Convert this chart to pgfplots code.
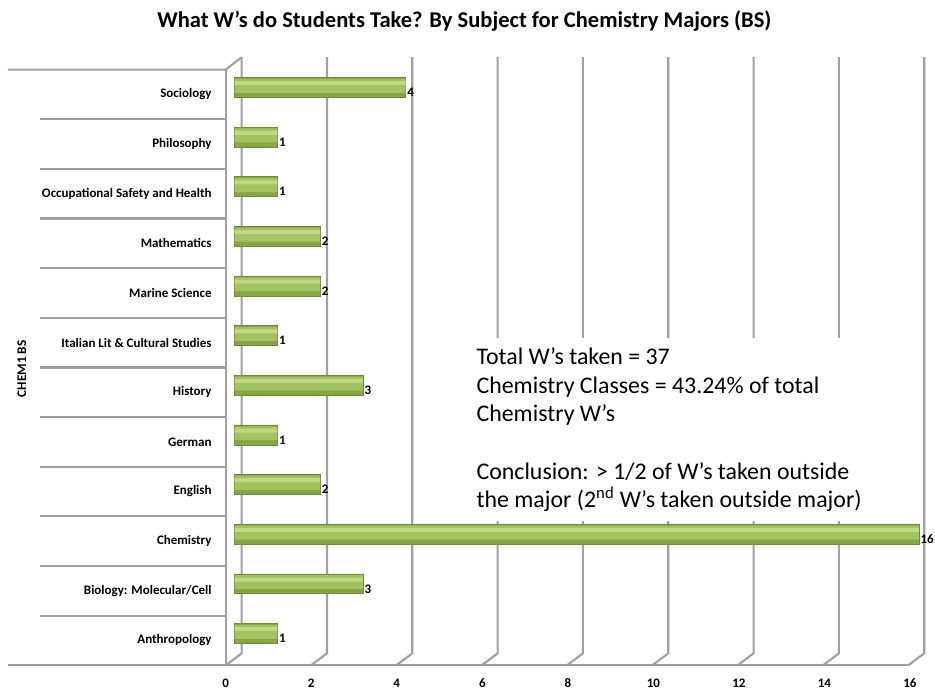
\documentclass[border=0pt]{standalone}
\usepackage{pgfplots}
\pgfplotsset{compat=1.18}
\usepackage{fontspec}
\setmainfont{Carlito}

\definecolor{gridgray}{HTML}{A0A0A0}
\definecolor{barhi}{HTML}{BFD982}
\definecolor{barmid}{HTML}{A3C261}
\definecolor{bardark}{HTML}{86A645}
\definecolor{barline}{HTML}{6E8A36}

% the chart's values, one row per subject (bottom to top)
\pgfplotstableread{
pos value
0  1
1  3
2  16
3  2
4  1
5  3
6  1
7  2
8  2
9  1
10 1
11 4
}\wdata

\begin{document}
\begin{tikzpicture}
\begin{scope}[x=0.75pt, y=-0.75pt]
\path[use as bounding box] (0,0) rectangle (935,696);

% title
\node[font=\fontsize{17}{20}\selectfont\bfseries] at (467,21)
  {What W’s do Students Take? By Subject for Chemistry Majors (BS)};

% 3D walls: back gridlines with their slanted feet
\foreach \v in {0,2,...,16}{
  \draw[gridgray, line width=1.6pt]
    ({227+42.9*\v},669) -- ({243+42.9*\v},657) -- ({243+42.9*\v},57.5);
}
% front side wall and category separators
\draw[gridgray, line width=1.6pt] (8,70) -- (227,70) -- (243,57.5);
\draw[gridgray, line width=1.6pt] (227,70) -- (227,669);
\draw[gridgray, line width=1.6pt] (8,669) -- (913,669);
\foreach \k in {1,...,11}{
  \draw[gridgray, line width=1.6pt] (40,{70+49.92*\k}) -- (227,{70+49.92*\k});
}

% text box
\fill[white] (470,340) rectangle (862,524);
\begin{scope}[every node/.style={font=\fontsize{18}{21}\selectfont, anchor=base west, inner sep=0pt}]
  \node at (479,367) {Total W’s taken = 37};
  \node at (479,396) {Chemistry Classes = 43.24\% of total};
  \node at (479,424) {Chemistry W’s};
  \node at (479,482) {Conclusion: > 1/2 of W’s taken outside};
  \node at (479,510) {the major (2\textsuperscript{nd} W’s taken outside major)};
\end{scope}

% y axis title
\node[font=\fontsize{10}{11}\selectfont\bfseries, rotate=90] at (22,371) {CHEM1 BS};
\end{scope}

\begin{axis}[
    at={(177pt,-501.75pt)}, anchor=south west,
    scale only axis,
    width=516pt, height=449.25pt,
    xmin=0, xmax=16,
    ymin=-0.5, ymax=11.5,
    xtick={0,2,...,16},
    ytick={0,...,11},
    yticklabels={Anthropology, Biology: Molecular/Cell, Chemistry, English,
      German, History, Italian Lit \& Cultural Studies, Marine Science,
      Mathematics, Occupational Safety and Health, Philosophy, Sociology},
    axis line style={draw=none},
    tick style={draw=none},
    /pgf/number format/assume math mode=true,
    yticklabel style={font=\fontsize{9.8}{11}\selectfont\bfseries, anchor=east,
      inner sep=0pt, xshift=-17.25pt},
    xticklabel style={font=\fontsize{9.8}{11}\selectfont\bfseries, anchor=center,
      inner sep=0pt, xshift=-6.75pt, yshift=-13.5pt},
    clip=false,
]
% cylinder look: darker body, lighter middle band, highlight strip
\addplot[xbar, bar width=15pt, bar shift=5.25pt, draw=barline, line width=0.5pt,
    fill=bardark,
    nodes near coords,
    nodes near coords style={font=\fontsize{9.8}{11}\selectfont\bfseries,
      anchor=west, inner sep=1pt, yshift=1.5pt, text=black},
] table[x=value, y=pos] {\wdata};
\addplot[xbar, bar width=10.5pt, bar shift=6.5pt, draw=none, fill=barmid]
    table[x=value, y=pos] {\wdata};
\addplot[xbar, bar width=3pt, bar shift=8.5pt, draw=none, fill=barhi]
    table[x=value, y=pos] {\wdata};
\end{axis}
\end{tikzpicture}
\end{document}
